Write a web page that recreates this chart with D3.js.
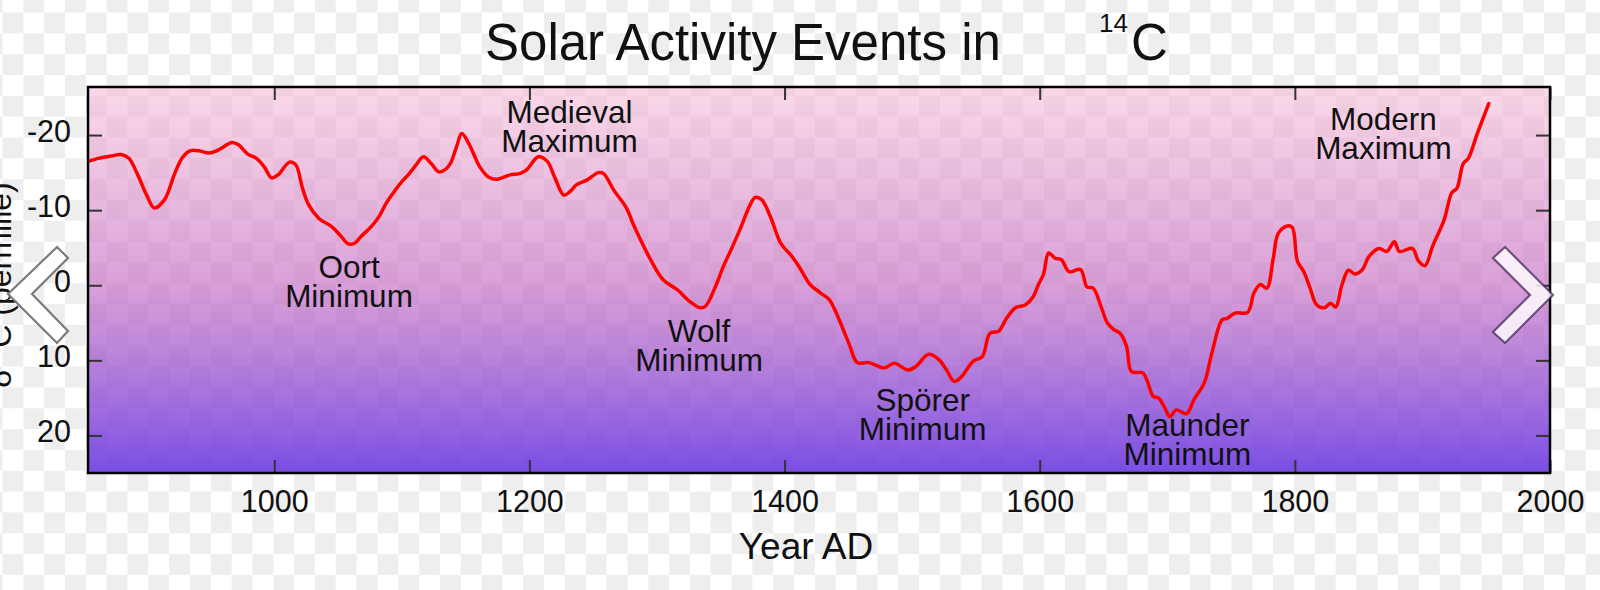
<!DOCTYPE html>
<html>
<head>
<meta charset="utf-8">
<script src="https://cdnjs.cloudflare.com/ajax/libs/d3/7.8.5/d3.min.js"></script>
<style>
  html, body { margin: 0; padding: 0; background: #fff; }
  svg { display: block; }
  text { font-family: "Liberation Sans", Arial, Helvetica, sans-serif; fill: #111; }
</style>
</head>
<body>
<svg id="chart" width="1600" height="590"></svg>
<script>
// ---- data ----
const years = [854,862,872,880,886,893,900,906,914,922,928,934,941,949,956,967,972,979,986,992,998,1003,1012,1017,1022,1027,1035,1045,1052,1058,1063,1068,1076,1082,1088,1095,1100,1106,1111,1117,1123,1129,1134,1138,1143,1147,1153,1161,1168,1174,1185,1193,1198,1207,1214,1220,1227,1232,1237,1245,1254,1258,1266,1276,1281,1287,1295,1305,1316,1326,1334,1338,1347,1352,1358,1365,1373,1377,1382,1389,1397,1406,1412,1420,1428,1435,1440,1446,1451,1457,1466,1478,1486,1497,1503,1513,1521,1527,1533,1538,1548,1555,1561,1568,1574,1581,1589,1595,1599,1603,1607,1612,1617,1623,1632,1637,1642,1648,1653,1658,1663,1668,1672,1681,1689,1693,1698,1702,1707,1715,1721,1729,1735,1743,1747,1753,1763,1768,1773,1778,1783,1787,1794,1798,1802,1807,1812,1817,1823,1828,1832,1837,1842,1847,1853,1858,1866,1872,1878,1882,1892,1897,1902,1908,1917,1923,1927,1932,1936,1943,1952];
const delta14C = [-16.5,-16.9,-17.2,-17.4,-16.9,-14.7,-12.0,-10.3,-11.4,-14.9,-17.0,-17.9,-17.9,-17.6,-18.0,-19.0,-18.7,-17.5,-16.9,-15.8,-14.3,-14.7,-16.4,-16.0,-13.0,-10.7,-8.9,-7.8,-6.6,-5.5,-5.6,-6.5,-7.8,-9.1,-11.0,-12.7,-13.8,-14.9,-16.0,-17.1,-16.2,-15.1,-15.4,-16.2,-18.5,-20.2,-18.7,-15.8,-14.4,-14.1,-14.7,-14.9,-15.4,-17.1,-16.5,-14.3,-12.0,-12.5,-13.4,-14.0,-15.0,-14.9,-12.7,-10.3,-8.3,-6.1,-3.4,-0.7,0.6,2.2,3.0,2.8,-0.3,-2.5,-4.7,-7.4,-10.7,-11.7,-11.4,-9.1,-5.6,-3.8,-2.3,-0.1,1.0,1.9,3.5,5.9,8.0,10.3,10.3,11.0,10.4,11.3,10.8,9.2,9.9,11.3,12.8,12.3,10.1,9.5,6.4,6.1,4.4,3.0,2.6,1.5,-0.1,-1.5,-4.3,-3.6,-3.4,-1.8,-2.1,0.2,0.4,2.8,5.0,5.9,6.4,8.1,11.5,11.7,14.8,15.0,16.3,17.5,16.6,17.1,15.2,13.0,9.0,4.6,4.4,3.7,3.6,1.0,-0.1,0.4,-3.5,-6.9,-7.9,-7.7,-3.2,-1.8,0.4,2.6,3.0,2.4,2.9,-0.1,-2.0,-1.5,-2.1,-3.8,-4.9,-4.5,-5.8,-4.5,-4.9,-3.2,-2.6,-5.2,-8.7,-12.3,-12.9,-16.2,-16.9,-20.2,-24.2];

const xTickValues = [1000, 1200, 1400, 1600, 1800, 2000];
const yTickValues = [-20, -10, 0, 10, 20];

const annotationLines = [["Oort", "Minimum"], ["Medieval", "Maximum"], ["Wolf", "Minimum"], ["Spörer", "Minimum"], ["Maunder", "Minimum"], ["Modern", "Maximum"]];
const annotationYears = [1058.6, 1231.5, 1333, 1508.3, 1715.7, 1869.4];
const annotationValues = [-1.0, -21.6, 7.5, 16.8, 20.1, -20.7];

// ---- layout ----
const svg = d3.select("#chart");
const L = 88, R = 1550, T = 87, B = 473;
const x = d3.scaleLinear().domain([854, 2000]).range([L, R]);
const y = d3.scaleLinear().domain([-26.4, 25]).range([T, B]);

const defs = svg.append("defs");
const sq = 20.83;
const pat = defs.append("pattern").attr("id", "chk").attr("patternUnits", "userSpaceOnUse")
  .attr("width", sq * 2).attr("height", sq * 2).attr("x", 65).attr("y", 75);
pat.append("rect").attr("width", sq * 2).attr("height", sq * 2).attr("fill", "#ffffff");
pat.append("rect").attr("width", sq).attr("height", sq).attr("fill", "#eeeeee");
pat.append("rect").attr("x", sq).attr("y", sq).attr("width", sq).attr("height", sq).attr("fill", "#eeeeee");

const grad = defs.append("linearGradient").attr("id", "bg").attr("x1", 0).attr("y1", 0).attr("x2", 0).attr("y2", 1);
grad.append("stop").attr("offset", 0).attr("stop-color", "rgb(247,185,214)").attr("stop-opacity", 0.55);
grad.append("stop").attr("offset", 0.51).attr("stop-color", "rgb(197,109,195)").attr("stop-opacity", 0.65);
grad.append("stop").attr("offset", 1).attr("stop-color", "rgb(107,59,226)").attr("stop-opacity", 0.9);

defs.append("clipPath").attr("id", "plotclip").append("rect")
  .attr("x", L).attr("y", T).attr("width", R - L).attr("height", B - T);

// page checker background
svg.append("rect").attr("width", 1600).attr("height", 590).attr("fill", "url(#chk)");
// plot area
svg.append("rect").attr("x", L).attr("y", T).attr("width", R - L).attr("height", B - T).attr("fill", "url(#bg)");

// axes (inward ticks)
const tickColor = "#333";
function styleAxis(g) {
  g.select(".domain").remove();
  g.selectAll(".tick line").attr("stroke", tickColor).attr("stroke-width", 2);
  g.selectAll("text").style("font-size", "30.5px").attr("fill", "#111")
    .style("font-family", "'Liberation Sans', Arial, sans-serif");
}
svg.append("g").attr("transform", `translate(${L},0)`)
  .call(d3.axisLeft(y).tickValues(yTickValues).tickSizeInner(-14).tickSizeOuter(0).tickPadding(17).tickFormat(d => String(d)))
  .call(styleAxis)
  .call(g => g.selectAll("text").attr("dy", "0.2em"));
svg.append("g").attr("transform", `translate(${R},0)`)
  .call(d3.axisRight(y).tickValues(yTickValues).tickSizeInner(-14).tickSizeOuter(0).tickFormat(""))
  .call(styleAxis);
svg.append("g").attr("transform", `translate(0,${B})`)
  .call(d3.axisBottom(x).tickValues(xTickValues).tickSizeInner(-13).tickSizeOuter(0).tickPadding(17).tickFormat(d => String(d)))
  .call(styleAxis);
svg.append("g").attr("transform", `translate(0,${T})`)
  .call(d3.axisTop(x).tickValues(xTickValues).tickSizeInner(-13).tickSizeOuter(0).tickFormat(""))
  .call(styleAxis);

// data line
const line = d3.line().x((d, i) => x(years[i])).y(d => y(d)).curve(d3.curveCatmullRom.alpha(0.5));
svg.append("path").attr("clip-path", "url(#plotclip)")
  .attr("d", line(delta14C))
  .attr("fill", "none").attr("stroke", "#ff0000").attr("stroke-width", 3.5)
  .attr("stroke-linejoin", "round").attr("stroke-linecap", "round");

// annotations (one text element per line)
const ann = svg.append("g").style("font-size", "31.5px");
annotationLines.forEach((lines, i) => {
  lines.forEach((s, j) => {
    ann.append("text").attr("text-anchor", "middle")
      .attr("x", x(annotationYears[i]))
      .attr("y", y(annotationValues[i]) + j * 29)
      .text(s);
  });
});

// frame
svg.append("rect").attr("x", L).attr("y", T).attr("width", R - L).attr("height", B - T)
  .attr("fill", "none").attr("stroke", "#000").attr("stroke-width", 2.5);

// title
svg.append("text").attr("x", 485).attr("y", 60).style("font-size", "51px").text("Solar Activity Events in");
svg.append("text").attr("x", 1099).attr("y", 32).style("font-size", "26px").text("14");
svg.append("text").attr("x", 1131).attr("y", 60).style("font-size", "51px").text("C");

// axis titles
svg.append("text").attr("x", 806).attr("y", 559).attr("text-anchor", "middle").style("font-size", "37px").text("Year AD");
const yl = svg.append("text").attr("transform", "translate(11,285) rotate(-90)").attr("text-anchor", "middle").style("font-size", "32px");
yl.append("tspan").text("δ");
yl.append("tspan").attr("dy", -12).style("font-size", "20px").text("14");
yl.append("tspan").attr("dy", 12).text("C (permille)");

// carousel arrows overlaying the picture
const arrows = svg.append("g");
arrows.append("path")
  .attr("d", "M8,294 L57,247 L68,258 L32,294 L68,331 L57,343 Z")
  .attr("fill", "rgba(255,255,255,0.92)").attr("stroke", "#7a7a7a").attr("stroke-width", 2.2);
arrows.append("path")
  .attr("d", "M1553,295 L1505,247 L1493,258 L1530,295 L1493,332 L1505,343 Z")
  .attr("fill", "rgba(255,255,255,0.82)").attr("stroke", "rgba(70,40,90,0.75)").attr("stroke-width", 2.2);
</script>
</body>
</html>
